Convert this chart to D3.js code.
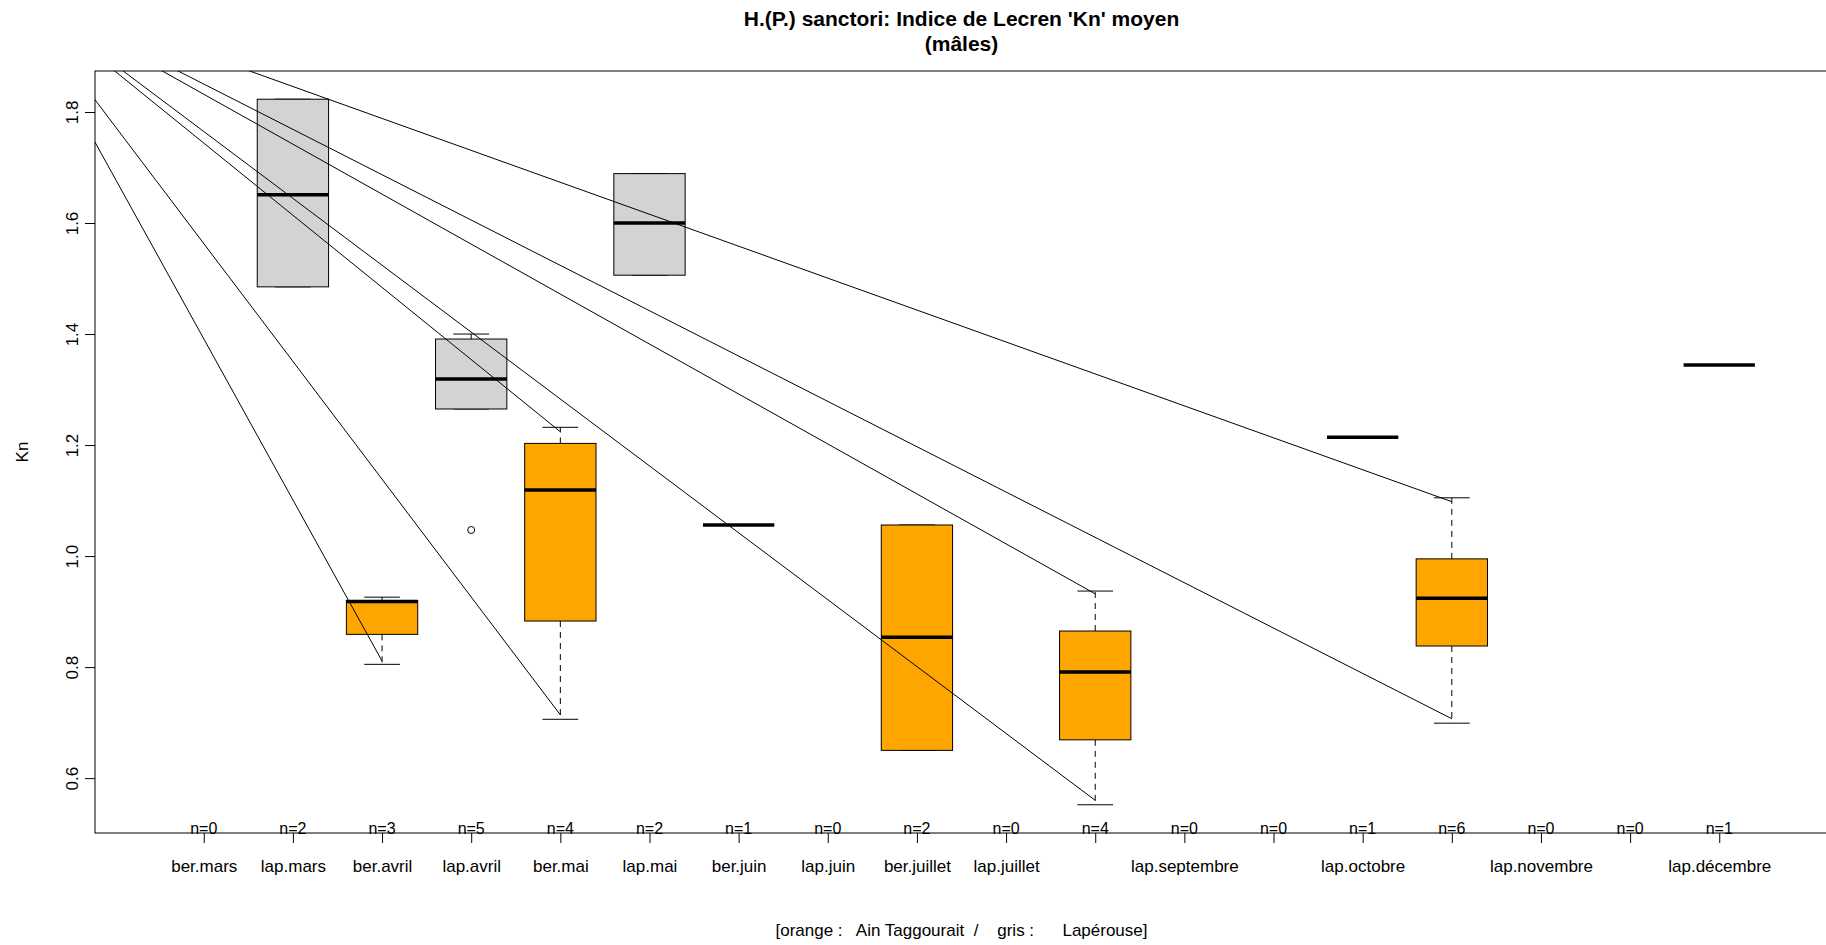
<!DOCTYPE html>
<html>
<head>
<meta charset="utf-8">
<script src="https://cdn.jsdelivr.net/npm/d3@7"></script>
<style>
  body { margin: 0; background: #fff; }
  svg { display: block; font-family: "Liberation Sans", Arial, sans-serif; }
</style>
</head>
<body>
<svg width="1826" height="945"></svg>
<script>
// groups, in plotting order (ber = orange, lap = grey)
const categories = ['ber.mars', 'lap.mars', 'ber.avril', 'lap.avril', 'ber.mai', 'lap.mai',
  'ber.juin', 'lap.juin', 'ber.juillet', 'lap.juillet', 'ber.septembre', 'lap.septembre',
  'ber.octobre', 'lap.octobre', 'ber.novembre', 'lap.novembre', 'ber.décembre', 'lap.décembre'];
const counts = [0, 2, 3, 5, 4, 2, 1, 0, 2, 0, 4, 0, 0, 1, 6, 0, 0, 1];

// boxplot stats (null = no data)
const lowWhisker  = [null, 1.485, 0.805, 1.265, 0.706, 1.506, 1.056, null, 0.650, null, 0.552, null, null, 1.214, 0.699, null, null, 1.344];
const lowerHinge  = [null, 1.485, 0.859, 1.265, 0.883, 1.506, 1.056, null, 0.650, null, 0.669, null, null, 1.214, 0.838, null, null, 1.344];
const medians     = [null, 1.651, 0.918, 1.319, 1.119, 1.600, 1.056, null, 0.854, null, 0.791, null, null, 1.214, 0.924, null, null, 1.344];
const upperHinge  = [null, 1.823, 0.920, 1.391, 1.203, 1.689, 1.056, null, 1.056, null, 0.865, null, null, 1.214, 0.995, null, null, 1.344];
const highWhisker = [null, 1.823, 0.926, 1.400, 1.232, 1.689, 1.056, null, 1.056, null, 0.937, null, null, 1.214, 1.105, null, null, 1.344];

const outlierCats = ['lap.avril'];
const outlierValues = [1.047];

const yTicks = [0.6, 0.8, 1.0, 1.2, 1.4, 1.6, 1.8];

// the stray straight lines, all from one point up-left of the plot
const segOrigin = [-1.2, 2.03];
const segCats = ['ber.avril', 'ber.mai', 'ber.mai', 'ber.septembre', 'ber.septembre', 'ber.novembre', 'ber.novembre'];
const segValues = [0.811, 0.714, 1.224, 0.560, 0.932, 1.098, 0.707];

const title1 = "H.(P.) sanctori: Indice de Lecren 'Kn' moyen";
const title2 = '(mâles)';
const yLabel = 'Kn';
const caption = '[orange :   Ain Taggourait  /    gris :      Lapérouse]';

const svg = d3.select('svg');
const margin = {top: 71, right: -2, bottom: 112, left: 95};
const width = 1826 - margin.left - margin.right;
const height = 945 - margin.top - margin.bottom;
const g = svg.append('g').attr('transform', `translate(${margin.left},${margin.top})`);

const n = categories.length;
const xPad = 0.04 * n;
const x = d3.scaleLinear()
  .domain([0.5 - xPad, n + 0.5 + xPad])
  .range([0, width]);

const allVals = lowWhisker.concat(highWhisker, outlierValues).filter(v => v !== null);
const yMin = d3.min(allVals), yMax = d3.max(allVals);
const yPad = 0.04 * (yMax - yMin);
const y = d3.scaleLinear()
  .domain([yMin - yPad, yMax + yPad])
  .range([height, 0]);

svg.append('defs').append('clipPath').attr('id', 'plotclip')
  .append('rect').attr('width', width).attr('height', height);

// box width 0.8 of the spacing, staples half of that
const boxW = x(1.8) - x(1);
const capW = boxW / 2;

const rows = categories.map((c, i) => ({
  cat: c, pos: i + 1, n: counts[i],
  lw: lowWhisker[i], q1: lowerHinge[i], med: medians[i], q3: upperHinge[i], hw: highWhisker[i],
  fill: c.startsWith('ber') ? '#FFA500' : '#D3D3D3'
})).filter(d => d.med !== null);

const box = g.append('g').attr('clip-path', 'url(#plotclip)')
  .selectAll('.box')
  .data(rows)
  .enter().append('g')
    .attr('class', 'box')
    .attr('transform', d => `translate(${x(d.pos)},0)`);

// whiskers (dashed) and staples
box.filter(d => d.n > 1).append('line')
  .attr('y1', d => y(d.q3)).attr('y2', d => y(d.hw))
  .attr('stroke', '#000').attr('stroke-dasharray', '6,5');
box.filter(d => d.n > 1).append('line')
  .attr('y1', d => y(d.q1)).attr('y2', d => y(d.lw))
  .attr('stroke', '#000').attr('stroke-dasharray', '6,5');
box.filter(d => d.n > 1).append('line')
  .attr('x1', -capW / 2).attr('x2', capW / 2)
  .attr('y1', d => y(d.hw)).attr('y2', d => y(d.hw))
  .attr('stroke', '#000');
box.filter(d => d.n > 1).append('line')
  .attr('x1', -capW / 2).attr('x2', capW / 2)
  .attr('y1', d => y(d.lw)).attr('y2', d => y(d.lw))
  .attr('stroke', '#000');

box.filter(d => d.n > 1).append('rect')
  .attr('x', -boxW / 2)
  .attr('width', boxW)
  .attr('y', d => y(d.q3))
  .attr('height', d => y(d.q1) - y(d.q3))
  .attr('fill', d => d.fill)
  .attr('stroke', '#000');

box.append('line')
  .attr('x1', -boxW / 2).attr('x2', boxW / 2)
  .attr('y1', d => y(d.med)).attr('y2', d => y(d.med))
  .attr('stroke', '#000').attr('stroke-width', 3.5);

// outliers
g.selectAll('.outlier')
  .data(outlierCats.map((c, i) => ({pos: categories.indexOf(c) + 1, v: outlierValues[i]})))
  .enter().append('circle')
    .attr('class', 'outlier')
    .attr('cx', d => x(d.pos))
    .attr('cy', d => y(d.v))
    .attr('r', 3.5)
    .attr('fill', 'none')
    .attr('stroke', '#000');

// straight lines from the origin point
g.append('g').attr('clip-path', 'url(#plotclip)')
  .selectAll('line')
  .data(segCats.map((c, i) => ({pos: categories.indexOf(c) + 1, v: segValues[i]})))
  .enter().append('line')
    .attr('x1', x(segOrigin[0])).attr('y1', y(segOrigin[1]))
    .attr('x2', d => x(d.pos)).attr('y2', d => y(d.v))
    .attr('stroke', '#000').attr('stroke-width', 1);

// n= labels along the bottom
g.selectAll('.nlab')
  .data(counts)
  .enter().append('text')
    .attr('class', 'nlab')
    .attr('x', (d, i) => x(i + 1))
    .attr('y', height + 1)
    .attr('text-anchor', 'middle')
    .style('font-size', '16px')
    .text(d => `n=${d}`);

// y axis
const yAxis = g.append('g')
  .call(d3.axisLeft(y).tickValues(yTicks).tickSize(10).tickFormat(d3.format('.1f')));
yAxis.select('.domain').remove();
yAxis.selectAll('text')
  .attr('transform', 'rotate(-90)')
  .attr('x', 0).attr('y', -17).attr('dy', 0)
  .attr('text-anchor', 'middle')
  .attr('fill', '#000')
  .style('font-size', '17px')
  .style('font-family', '"Liberation Sans", Arial, sans-serif');

// x axis
const xAxis = g.append('g')
  .attr('transform', `translate(0,${height})`)
  .call(d3.axisBottom(x).tickValues(d3.range(1, n + 1)).tickSize(10).tickFormat(i => categories[i - 1]));
xAxis.select('.domain').remove();
xAxis.selectAll('text')
  .attr('y', 39).attr('dy', 0)
  .attr('fill', '#000')
  .style('font-size', '17px')
  .style('font-family', '"Liberation Sans", Arial, sans-serif');

// drop labels that would run into the previous one (gap of one "m")
let lastRight = -Infinity;
const gap = 14;
xAxis.selectAll('text').each(function () {
  const b = this.getBBox();
  const left = x(d3.select(this.parentNode).datum()) + b.x;
  if (left < lastRight + gap) d3.select(this).remove();
  else lastRight = left + b.width;
});

// plot frame
g.append('rect')
  .attr('width', width).attr('height', height)
  .attr('fill', 'none').attr('stroke', '#000');

// titles and labels
svg.append('text')
  .attr('x', margin.left + width / 2).attr('y', 26)
  .attr('text-anchor', 'middle')
  .style('font-size', '21px').style('font-weight', 'bold')
  .text(title1);
svg.append('text')
  .attr('x', margin.left + width / 2).attr('y', 51)
  .attr('text-anchor', 'middle')
  .style('font-size', '21px').style('font-weight', 'bold')
  .text(title2);

svg.append('text')
  .attr('transform', `translate(28,${margin.top + height / 2}) rotate(-90)`)
  .attr('text-anchor', 'middle')
  .style('font-size', '17px')
  .text(yLabel);

svg.append('text')
  .attr('x', margin.left + width / 2).attr('y', 936)
  .attr('text-anchor', 'middle')
  .style('font-size', '17px')
  .style('white-space', 'pre')
  .text(caption);
</script>
</body>
</html>
